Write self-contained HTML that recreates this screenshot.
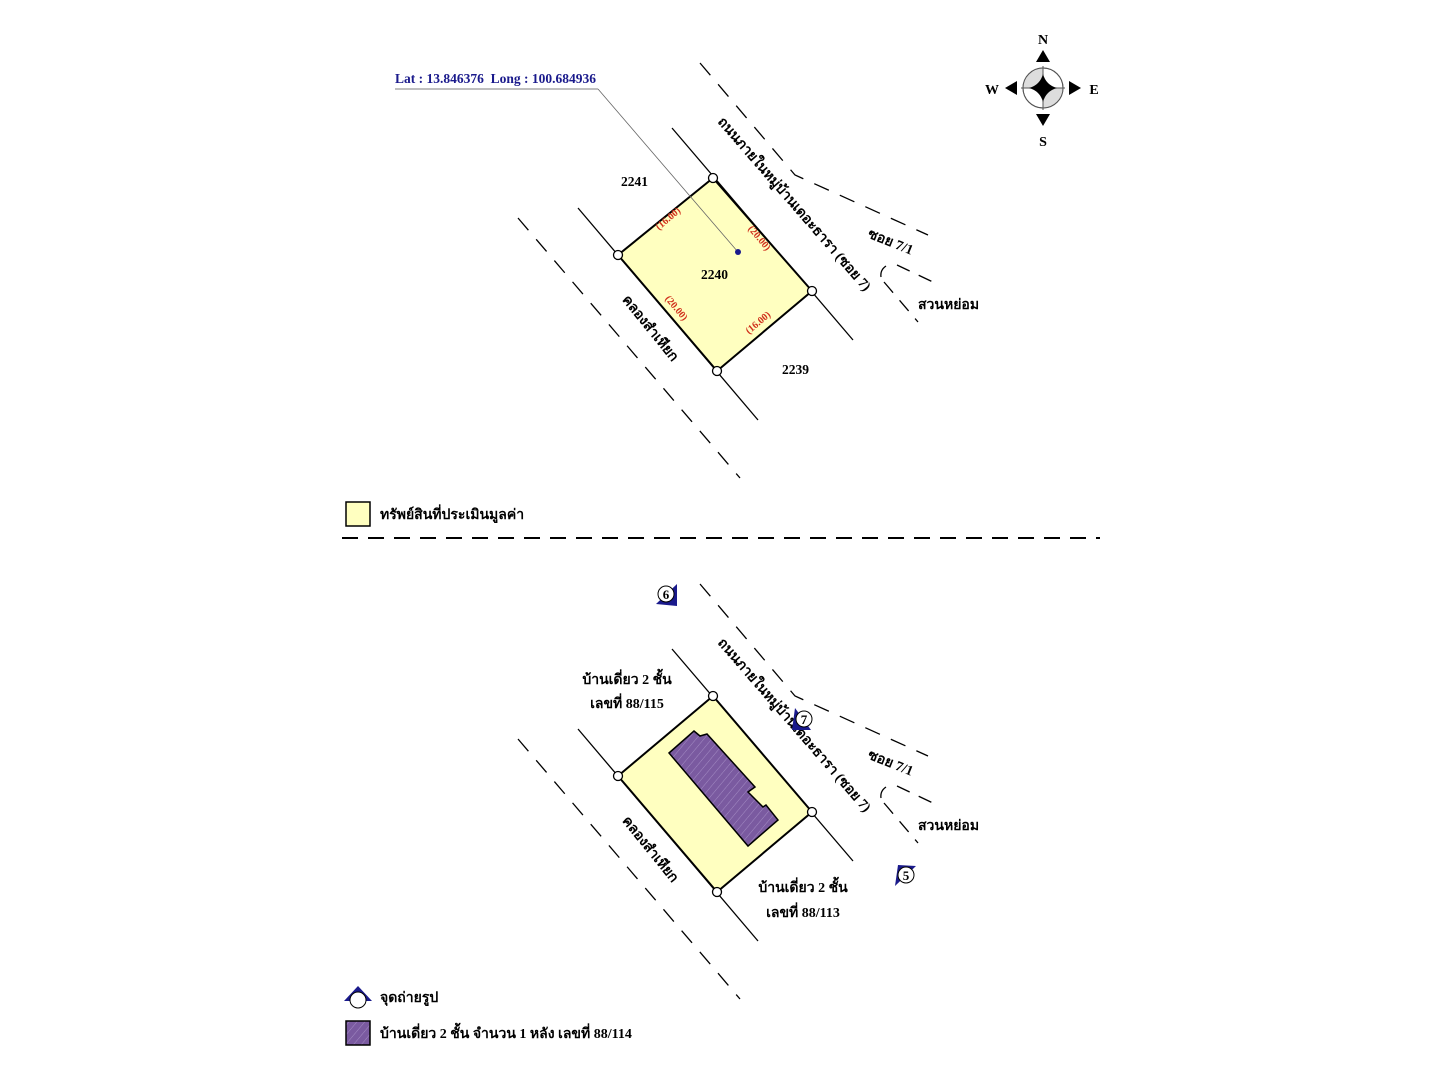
<!DOCTYPE html>
<html><head><meta charset="utf-8"><style>
html,body{margin:0;padding:0;background:#fff;width:1440px;height:1080px;overflow:hidden}
text{font-family:"Liberation Serif","DejaVu Serif",serif;}
</style></head><body>
<svg width="1440" height="1080" viewBox="0 0 1440 1080" xmlns="http://www.w3.org/2000/svg">
<defs>
<pattern id="hatch" width="6" height="6" patternUnits="userSpaceOnUse" patternTransform="rotate(40)">
<rect width="6" height="6" fill="#7a5aa0"/><line x1="0" y1="0" x2="0" y2="6" stroke="#a48cc4" stroke-width="1"/>
</pattern>
</defs>

<!-- ===== TOP MAP ===== -->
<g stroke="#000" stroke-width="1.3" fill="none">
<line x1="578" y1="208" x2="758" y2="420"/>
<line x1="672" y1="128" x2="853" y2="340"/>
<line x1="518" y1="218" x2="740" y2="478" stroke-dasharray="16,12"/>
<polyline points="700,63 795,175 928,235" stroke-dasharray="16,12"/>
<line x1="897" y1="265" x2="935" y2="283" stroke-dasharray="14,10"/>
<line x1="884" y1="282" x2="918" y2="322" stroke-dasharray="14,10"/>
<path d="M886,266 Q880,270 881,277"/>
</g>
<line x1="395" y1="89" x2="598" y2="89" stroke="#555" stroke-width="0.8"/>
<polygon points="713,178 812,291 717,371 618,255" fill="#ffffc0" stroke="#000" stroke-width="2"/>
<line x1="598" y1="89" x2="738" y2="252" stroke="#666" stroke-width="0.8"/>
<circle cx="738" cy="252" r="3" fill="#1a1a8c"/>
<g fill="#fff" stroke="#000" stroke-width="1.3">
<circle cx="713" cy="178" r="4.5"/><circle cx="812" cy="291" r="4.5"/><circle cx="717" cy="371" r="4.5"/><circle cx="618" cy="255" r="4.5"/>
</g>
<text x="395" y="83" font-size="13.5" font-weight="bold" fill="#1a1a8c" textLength="201" lengthAdjust="spacingAndGlyphs">Lat : 13.846376&#160; Long : 100.684936</text>
<g font-size="13.5" font-weight="bold">
<text x="621" y="186">2241</text>
<text x="701" y="279">2240</text>
<text x="782" y="374">2239</text>
</g>
<g font-size="10" fill="#d0301c" font-weight="bold">
<text x="670" y="221" transform="rotate(-40 670 221)" text-anchor="middle">(16.00)</text>
<text x="757" y="240" transform="rotate(50 757 240)" text-anchor="middle">(20.00)</text>
<text x="674" y="310" transform="rotate(50 674 310)" text-anchor="middle">(20.00)</text>
<text x="760" y="325" transform="rotate(-40 760 325)" text-anchor="middle">(16.00)</text>
</g>
<g font-size="14" font-weight="bold">
<text x="791" y="207" transform="rotate(49 791 207)" text-anchor="middle">ถนนภายในหมู่บ้านเดอะธารา (ซอย 7)</text>
<text x="647" y="331" transform="rotate(51 647 331)" text-anchor="middle">คลองสำเหียก</text>
<text x="889" y="246" transform="rotate(22 889 246)" text-anchor="middle">ซอย 7/1</text>
<text x="918" y="309">สวนหย่อม</text>
</g>

<!-- compass -->
<g>
<circle cx="1043" cy="88" r="20" fill="#fff" stroke="#555" stroke-width="1"/>
<path d="M1043,68 A20,20 0 0 0 1023,88 L1043,88Z" fill="#ddd"/>
<path d="M1043,108 A20,20 0 0 0 1063,88 L1043,88Z" fill="#ddd"/>
<circle cx="1043" cy="88" r="20" fill="none" stroke="#555" stroke-width="1"/>
<line x1="1043" y1="66" x2="1043" y2="110" stroke="#555"/>
<line x1="1021" y1="88" x2="1065" y2="88" stroke="#555"/>
<path d="M1043,74 Q1046,85 1057,88 Q1046,91 1043,102 Q1040,91 1029,88 Q1040,85 1043,74Z" fill="#000"/>
<polygon points="1043,50 1036,62 1050,62" fill="#000"/>
<polygon points="1043,126 1036,114 1050,114" fill="#000"/>
<polygon points="1005,88 1017,81 1017,95" fill="#000"/>
<polygon points="1081,88 1069,81 1069,95" fill="#000"/>
<g font-size="14" font-weight="bold" text-anchor="middle">
<text x="1043" y="44">N</text><text x="1043" y="146">S</text><text x="992" y="94">W</text><text x="1094" y="94">E</text>
</g>
</g>

<!-- legend top -->
<rect x="346" y="502" width="24" height="24" fill="#ffffc0" stroke="#000" stroke-width="1.5"/>
<text x="380" y="519" font-size="14" font-weight="bold">ทรัพย์สินที่ประเมินมูลค่า</text>

<line x1="342" y1="538" x2="1100" y2="538" stroke="#000" stroke-width="2" stroke-dasharray="16,10"/>

<!-- ===== BOTTOM MAP ===== -->
<g transform="translate(0,521)">
<g stroke="#000" stroke-width="1.3" fill="none">
<line x1="578" y1="208" x2="758" y2="420"/>
<line x1="672" y1="128" x2="853" y2="340"/>
<line x1="518" y1="218" x2="740" y2="478" stroke-dasharray="16,12"/>
<polyline points="700,63 795,175 928,235" stroke-dasharray="16,12"/>
<line x1="897" y1="265" x2="935" y2="283" stroke-dasharray="14,10"/>
<line x1="884" y1="282" x2="918" y2="322" stroke-dasharray="14,10"/>
<path d="M886,266 Q880,270 881,277"/>
</g>
<polygon points="713,175 812,291 717,371 618,255" fill="#ffffc0" stroke="#000" stroke-width="2"/>
<g fill="#fff" stroke="#000" stroke-width="1.3">
<circle cx="713" cy="175" r="4.5"/><circle cx="812" cy="291" r="4.5"/><circle cx="717" cy="371" r="4.5"/><circle cx="618" cy="255" r="4.5"/>
</g>
<g font-size="14" font-weight="bold">
<text x="791" y="207" transform="rotate(49 791 207)" text-anchor="middle">ถนนภายในหมู่บ้านเดอะธารา (ซอย 7)</text>
<text x="647" y="331" transform="rotate(51 647 331)" text-anchor="middle">คลองสำเหียก</text>
<text x="889" y="246" transform="rotate(22 889 246)" text-anchor="middle">ซอย 7/1</text>
<text x="918" y="309">สวนหย่อม</text>
</g>
</g>
<polygon points="669,753 694,731 700,736 707,734 755,787 748,792 763,807 766,805 778,820 748,846" fill="url(#hatch)" stroke="#000" stroke-width="1.5"/>
<g font-size="14" font-weight="bold" text-anchor="middle">
<text x="627" y="684">บ้านเดี่ยว 2 ชั้น</text>
<text x="627" y="708">เลขที่ 88/115</text>
<text x="803" y="892">บ้านเดี่ยว 2 ชั้น</text>
<text x="803" y="917">เลขที่ 88/113</text>
</g>
<!-- photo markers -->
<polygon points="677,584 677,606 656,604" fill="#1a1a8c"/>
<circle cx="666" cy="594" r="8" fill="#fff" stroke="#000"/>
<text x="666" y="599" font-size="13" font-weight="bold" text-anchor="middle">6</text>
<polygon points="795,708 792,730 811,730" fill="#1a1a8c"/>
<circle cx="804" cy="719" r="8" fill="#fff" stroke="#000"/>
<text x="804" y="724" font-size="13" font-weight="bold" text-anchor="middle">7</text>
<polygon points="895,886 898,865 916,866" fill="#1a1a8c"/>
<circle cx="906" cy="875" r="8" fill="#fff" stroke="#000"/>
<text x="906" y="880" font-size="13" font-weight="bold" text-anchor="middle">5</text>

<!-- legend bottom -->
<polygon points="344,1001 358,986 372,1001" fill="#1a1a8c"/>
<circle cx="358" cy="1000" r="8" fill="#fff" stroke="#000"/>
<text x="380" y="1002" font-size="14" font-weight="bold">จุดถ่ายรูป</text>
<rect x="346" y="1021" width="24" height="24" fill="url(#hatch)" stroke="#000" stroke-width="1.5"/>
<text x="380" y="1038" font-size="14" font-weight="bold">บ้านเดี่ยว 2 ชั้น จำนวน 1 หลัง เลขที่ 88/114</text>
</svg>
</body></html>
